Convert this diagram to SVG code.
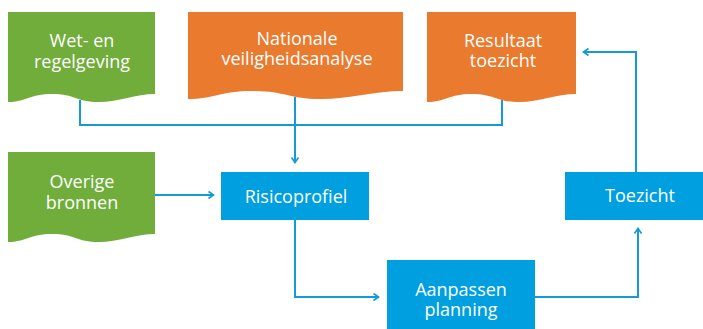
<svg xmlns="http://www.w3.org/2000/svg" width="703" height="329" viewBox="0 0 703 329">
<defs>
<marker id="arr" viewBox="0 0 8 10" refX="7" refY="5" markerWidth="8" markerHeight="10" markerUnits="userSpaceOnUse" orient="auto">
<path d="M1.5,1.5 L6.5,5 L1.5,8.5" fill="none" stroke="#129bd8" stroke-width="1.6"/>
</marker>
</defs>
<style>
.green{fill:#70ad3a}
.orange{fill:#e97a2e}
.blue{fill:#009fdf}
.t{font-family:"Open Sans","Noto Sans","DejaVu Sans",sans-serif;font-size:18px;fill:#ffffff;text-anchor:middle}
.c{fill:none;stroke:#129bd8;stroke-width:2}
</style>
<rect width="703" height="329" fill="#ffffff"/>
<g id="connectors">
<path class="c" d="M80,100 V125 H502 V100"/>
<path class="c" d="M295,97 V163" marker-end="url(#arr)"/>
<path class="c" d="M155,195 H214" marker-end="url(#arr)"/>
<path class="c" d="M295,220 V297 H379" marker-end="url(#arr)"/>
<path class="c" d="M535,297 H638 V228" marker-end="url(#arr)"/>
<path class="c" d="M636,172 V52 H583" marker-end="url(#arr)"/>
</g>
<g id="wet">
<path class="green" d="M8,12 H155 V94 C135.9,94 118.3,102 99.1,102 C75.6,102 75.6,94 52.1,94 C30,94 25.6,102 8,102 Z"/>
<text class="t" x="82" y="47">Wet- en</text>
<text class="t" x="82" y="68">regelgeving</text>
</g>
<g id="nationale">
<path class="orange" d="M188,12 H403 V91 C375,91 349.3,99 321.3,99 C286.9,99 286.9,91 252.5,91 C220.3,91 213.8,99 188,99 Z"/>
<text class="t" x="297" y="45">Nationale</text>
<text class="t" x="297" y="65">veiligheidsanalyse</text>
</g>
<g id="resultaat">
<path class="orange" d="M427,12 H576 V94 C556.6,94 538.8,102 519.4,102 C495.5,102 495.5,94 471.7,94 C449.4,94 444.9,102 427,102 Z"/>
<text class="t" x="503" y="47">Resultaat</text>
<text class="t" x="503" y="67">toezicht</text>
</g>
<g id="overige">
<path class="green" d="M8,152 H155 V234 C135.9,234 118.3,242 99.1,242 C75.6,242 75.6,234 52.1,234 C30,234 25.6,242 8,242 Z"/>
<text class="t" x="82" y="188">Overige</text>
<text class="t" x="82" y="209">bronnen</text>
</g>
<g id="risicoprofiel">
<rect class="blue" x="221" y="172" width="148" height="48"/>
<text class="t" x="296" y="203">Risicoprofiel</text>
</g>
<g id="toezicht">
<rect class="blue" x="565" y="172" width="140" height="48"/>
<text class="t" x="640" y="202">Toezicht</text>
</g>
<g id="aanpassen">
<rect class="blue" x="387" y="260" width="148" height="72"/>
<text class="t" x="461" y="296">Aanpassen</text>
<text class="t" x="461" y="316">planning</text>
</g>
</svg>
